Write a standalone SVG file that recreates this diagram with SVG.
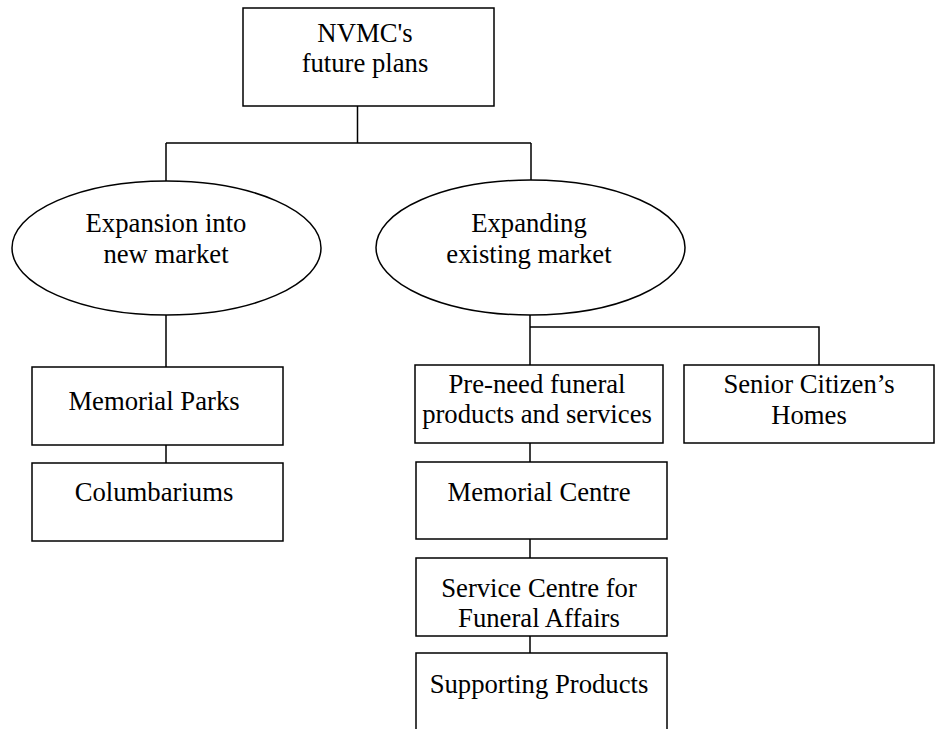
<svg xmlns="http://www.w3.org/2000/svg" width="938" height="729" viewBox="0 0 938 729">
<style>
.box{fill:#fff;stroke:#000;stroke-width:1.5}
.con{fill:none;stroke:#000;stroke-width:1.5}
text{font-family:"Liberation Serif","Times New Roman",serif;font-size:26.7px;fill:#000;text-anchor:middle}
</style>
<rect width="938" height="729" fill="#fff"/>
<g id="connectors">
<path class="con" d="M357.5,106 V143 M166,143 H531 M166,143 V181 M531,143 V180"/>
<path class="con" d="M166,315 V367 M166,445 V463"/>
<path class="con" d="M530,315 V365 M530,327 H819 V365"/>
<path class="con" d="M530,443 V462 M530,539 V558 M530,636 V653"/>
</g>
<g id="root">
<rect class="box" x="243" y="8" width="251" height="98"/>
<text x="365" y="42">NVMC's</text>
<text x="365" y="72">future plans</text>
</g>
<g id="expansion">
<ellipse class="box" cx="166.5" cy="248" rx="154.5" ry="67"/>
<text x="166" y="232">Expansion into</text>
<text x="166" y="263">new market</text>
</g>
<g id="expanding">
<ellipse class="box" cx="530.5" cy="247.5" rx="154.5" ry="67.5"/>
<text x="529" y="232">Expanding</text>
<text x="529" y="263">existing market</text>
</g>
<g id="memorial-parks">
<rect class="box" x="32" y="367" width="251" height="78"/>
<text x="154" y="410">Memorial Parks</text>
</g>
<g id="columbariums">
<rect class="box" x="32" y="463" width="251" height="78"/>
<text x="154" y="501">Columbariums</text>
</g>
<g id="pre-need">
<rect class="box" x="415" y="365" width="248" height="78"/>
<text x="537" y="393">Pre-need funeral</text>
<text x="537" y="423">products and services</text>
</g>
<g id="senior">
<rect class="box" x="684" y="365" width="250" height="78"/>
<text x="809" y="393">Senior Citizen’s</text>
<text x="809" y="424">Homes</text>
</g>
<g id="memorial-centre">
<rect class="box" x="416" y="462" width="251" height="77"/>
<text x="539" y="501">Memorial Centre</text>
</g>
<g id="service-centre">
<rect class="box" x="416" y="558" width="251" height="78"/>
<text x="539" y="597">Service Centre for</text>
<text x="539" y="627">Funeral Affairs</text>
</g>
<g id="supporting">
<rect class="box" x="416" y="653" width="251" height="90"/>
<text x="539" y="693">Supporting Products</text>
</g>
</svg>
